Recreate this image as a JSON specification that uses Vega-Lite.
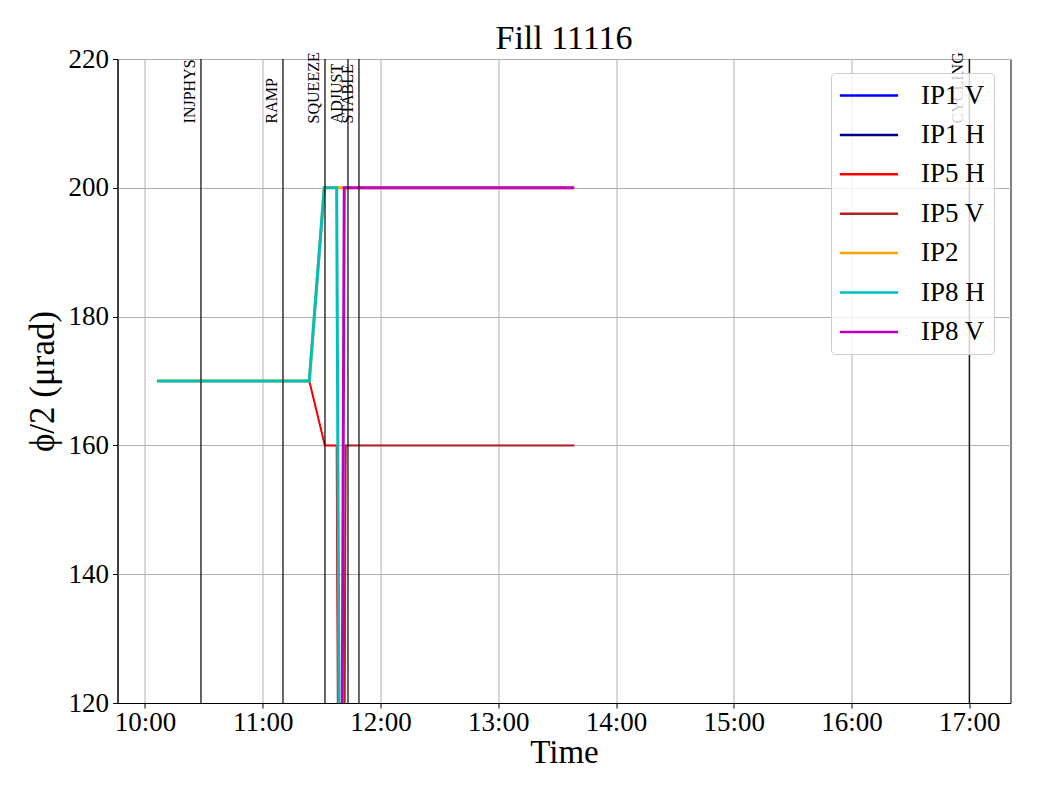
{
  "$schema": "https://vega.github.io/schema/vega-lite/v6.json",
  "width": 893,
  "height": 644,
  "autosize": {"type": "none"},
  "padding": {"left": 117.5, "top": 59, "right": 29.5, "bottom": 97},
  "background": "white",
  "title": {"text": "Fill 11116", "fontSize": 34, "font": "Liberation Serif", "fontWeight": "normal", "color": "black", "offset": -11},
  "config": {
    "font": "Liberation Serif",
    "view": {"stroke": "black", "strokeWidth": 1},
    "axis": {
      "labelFont": "Liberation Serif", "titleFont": "Liberation Serif",
      "labelFontSize": 27, "titleFontSize": 33, "titleFontWeight": "normal",
      "labelColor": "black", "titleColor": "black",
      "domainColor": "black", "tickColor": "black", "tickSize": 5,
      "gridColor": "#b0b0b0", "gridWidth": 1, "labelPadding": 1
    }
  },
  "datasets": {
    "series": [
      {"s": "IP1 V", "t": "2025-01-01T10:06:07", "v": 0},
      {"s": "IP1 V", "t": "2025-01-01T11:40:10", "v": 0},
      {"s": "IP1 V", "t": "2025-01-01T11:42:16", "v": 160},
      {"s": "IP1 V", "t": "2025-01-01T13:38:43", "v": 160},
      {"s": "IP1 H", "t": "2025-01-01T10:06:07", "v": 170},
      {"s": "IP1 H", "t": "2025-01-01T11:23:43", "v": 170},
      {"s": "IP1 H", "t": "2025-01-01T11:31:40", "v": 160},
      {"s": "IP1 H", "t": "2025-01-01T11:37:40", "v": 160},
      {"s": "IP1 H", "t": "2025-01-01T11:40:00", "v": 0},
      {"s": "IP1 H", "t": "2025-01-01T13:38:43", "v": 0},
      {"s": "IP5 H", "t": "2025-01-01T10:06:07", "v": 170},
      {"s": "IP5 H", "t": "2025-01-01T11:23:43", "v": 170},
      {"s": "IP5 H", "t": "2025-01-01T11:31:40", "v": 160},
      {"s": "IP5 H", "t": "2025-01-01T11:37:40", "v": 160},
      {"s": "IP5 H", "t": "2025-01-01T11:40:00", "v": 0},
      {"s": "IP5 H", "t": "2025-01-01T13:38:43", "v": 0},
      {"s": "IP5 V", "t": "2025-01-01T10:06:07", "v": 0},
      {"s": "IP5 V", "t": "2025-01-01T11:40:10", "v": 0},
      {"s": "IP5 V", "t": "2025-01-01T11:42:16", "v": 160},
      {"s": "IP5 V", "t": "2025-01-01T13:38:43", "v": 160},
      {"s": "IP2", "t": "2025-01-01T10:06:07", "v": 170},
      {"s": "IP2", "t": "2025-01-01T11:23:43", "v": 170},
      {"s": "IP2", "t": "2025-01-01T11:31:21", "v": 200},
      {"s": "IP2", "t": "2025-01-01T13:38:43", "v": 200},
      {"s": "IP8 H", "t": "2025-01-01T10:06:07", "v": 170},
      {"s": "IP8 H", "t": "2025-01-01T11:23:43", "v": 170},
      {"s": "IP8 H", "t": "2025-01-01T11:31:21", "v": 200},
      {"s": "IP8 H", "t": "2025-01-01T11:37:40", "v": 200},
      {"s": "IP8 H", "t": "2025-01-01T11:40:38", "v": 0},
      {"s": "IP8 H", "t": "2025-01-01T13:38:43", "v": 0},
      {"s": "IP8 V", "t": "2025-01-01T10:06:07", "v": 0},
      {"s": "IP8 V", "t": "2025-01-01T11:39:00", "v": 0},
      {"s": "IP8 V", "t": "2025-01-01T11:41:32", "v": 200},
      {"s": "IP8 V", "t": "2025-01-01T13:38:43", "v": 200}
    ],
    "events": [
      {"e": "INJPHYS", "t": "2025-01-01T10:28:32"},
      {"e": "RAMP", "t": "2025-01-01T11:10:19"},
      {"e": "SQUEEZE", "t": "2025-01-01T11:31:43"},
      {"e": "ADJUST", "t": "2025-01-01T11:43:26"},
      {"e": "STABLE", "t": "2025-01-01T11:49:02"},
      {"e": "CYCLING", "t": "2025-01-01T17:00:00"}
    ]
  },
  "encoding": {
    "x": {
      "field": "t", "type": "temporal", "title": "Time",
      "scale": {"domain": [
        {"year": 2025, "month": 1, "date": 1, "hours": 9, "minutes": 46},
        {"year": 2025, "month": 1, "date": 1, "hours": 17, "minutes": 21}
      ]},
      "axis": {
        "format": "%H:%M",
        "values": [
          {"year": 2025, "month": 1, "date": 1, "hours": 10},
          {"year": 2025, "month": 1, "date": 1, "hours": 11},
          {"year": 2025, "month": 1, "date": 1, "hours": 12},
          {"year": 2025, "month": 1, "date": 1, "hours": 13},
          {"year": 2025, "month": 1, "date": 1, "hours": 14},
          {"year": 2025, "month": 1, "date": 1, "hours": 15},
          {"year": 2025, "month": 1, "date": 1, "hours": 16},
          {"year": 2025, "month": 1, "date": 1, "hours": 17}
        ],
        "labelFlush": false, "labelOverlap": false, "titlePadding": 1
      }
    }
  },
  "layer": [
    {
      "data": {"name": "series"},
      "encoding": {
        "y": {
          "field": "v", "type": "quantitative", "title": "ϕ/2 (μrad)",
          "scale": {"domain": [120, 220], "nice": false, "zero": false},
          "axis": {"values": [120, 140, 160, 180, 200, 220], "titlePadding": 8, "titleFontSize": 35, "labelPadding": 4}
        },
        "color": {
          "field": "s", "type": "nominal",
          "scale": {
            "domain": ["IP1 V", "IP1 H", "IP5 H", "IP5 V", "IP2", "IP8 H", "IP8 V"],
            "range": ["#0000ff", "#00008b", "#ff0000", "#b22222", "#ffa500", "#00bfbf", "#bf00bf"]
          },
          "legend": {
            "title": null, "orient": "none", "legendX": 713.5, "legendY": 14,
            "symbolType": "M-3.75,0H12.25", "symbolSize": 53, "symbolStrokeWidth": 2.5,
            "labelFontSize": 27, "labelFont": "Liberation Serif", "labelColor": "black",
            "rowPadding": 11.4, "padding": 9, "labelOffset": 54,
            "fillColor": "rgba(255,255,255,0.8)", "strokeColor": "#cccccc", "cornerRadius": 4
          }
        }
      },
      "layer": [
        {"transform": [{"filter": "datum.s === 'IP1 V'"}], "mark": {"type": "line", "clip": true, "strokeWidth": 1}},
        {"transform": [{"filter": "datum.s === 'IP1 H'"}], "mark": {"type": "line", "clip": true, "strokeWidth": 1}},
        {"transform": [{"filter": "datum.s === 'IP5 H'"}], "mark": {"type": "line", "clip": true, "strokeWidth": 2}},
        {"transform": [{"filter": "datum.s === 'IP5 V'"}], "mark": {"type": "line", "clip": true, "strokeWidth": 2}},
        {"transform": [{"filter": "datum.s === 'IP2'"}], "mark": {"type": "line", "clip": true, "strokeWidth": 3}},
        {"transform": [{"filter": "datum.s === 'IP8 H'"}], "mark": {"type": "line", "clip": true, "strokeWidth": 3}},
        {"transform": [{"filter": "datum.s === 'IP8 V'"}], "mark": {"type": "line", "clip": true, "strokeWidth": 3}}
      ]
    },
    {
      "data": {"name": "events"},
      "mark": {"type": "rule", "color": "black", "strokeWidth": 1.2},
      "encoding": {}
    },
    {
      "data": {"name": "events"},
      "mark": {"type": "text", "angle": 270, "align": "left", "baseline": "bottom", "dy": -3, "fontSize": 16, "font": "Liberation Serif", "color": "black"},
      "encoding": {
        "text": {"field": "e"},
        "y": {"datum": 210}
      }
    }
  ]
}
